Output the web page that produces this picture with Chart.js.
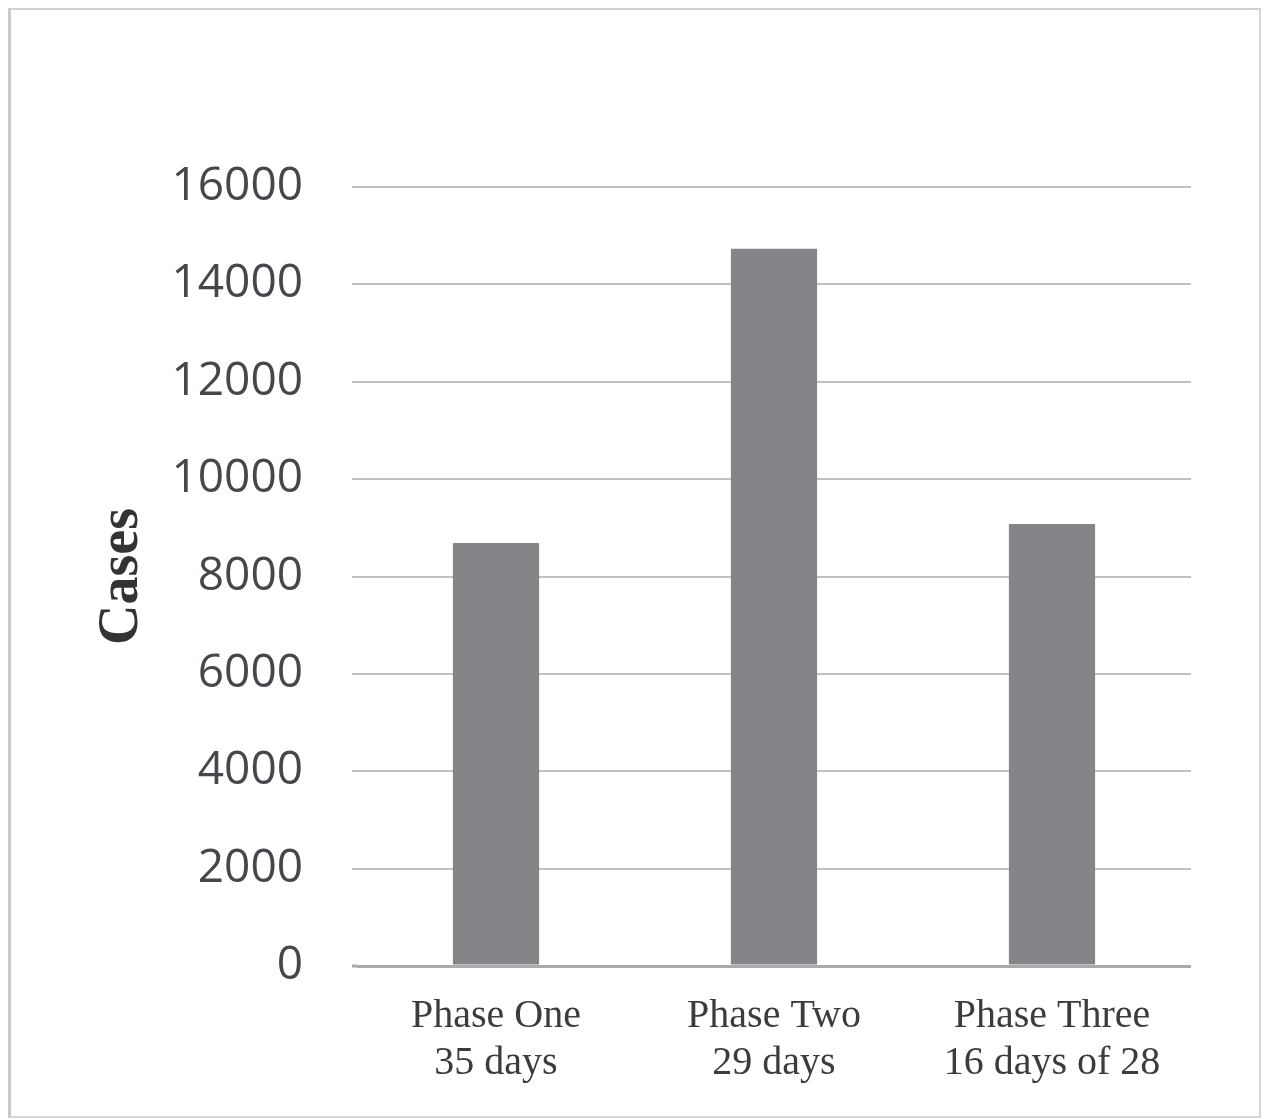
<!DOCTYPE html>
<html>
<head>
<meta charset="utf-8">
<script src="https://cdn.jsdelivr.net/npm/chart.js@4.4.1/dist/chart.umd.min.js"></script>
<style>
  html, body { margin: 0; padding: 0; background: #ffffff; }
  #wrap { position: relative; width: 1266px; height: 1119px; overflow: hidden; }
  #chart { position: absolute; left: 0; top: 0; }
  #frame {
    position: absolute; left: 8px; top: 8px; width: 1248px; height: 1106px;
    border-left: 3px solid #c6c9cd; border-top: 2px solid #cfd2d5;
    border-right: 2px solid #d4d6d8; border-bottom: 2px solid #d4d6d8;
    pointer-events: none;
  }
</style>
</head>
<body>
<div id="wrap">
  <canvas id="chart" width="1266" height="1119"></canvas>
  <div id="frame"></div>
</div>
<script>
// Case counts per phase
const categories = [
  ['Phase One', '35 days'],
  ['Phase Two', '29 days'],
  ['Phase Three', '16 days of 28']
];
const cases = [8690, 14730, 9080];
const yTicks = [0, 2000, 4000, 6000, 8000, 10000, 12000, 14000, 16000];

// Let the horizontal gridlines reach a few pixels left of the plot area
const gridLead = {
  id: 'gridLead',
  beforeDatasetsDraw(chart) {
    const { ctx, chartArea } = chart;
    const y = chart.scales.y;
    ctx.save();
    y.ticks.forEach((t) => {
      const py = Math.round(y.getPixelForValue(t.value));
      const zero = t.value === 0;
      ctx.strokeStyle = zero ? '#a9abad' : '#bfc1c3';
      ctx.lineWidth = zero ? 3 : 2;
      ctx.beginPath();
      ctx.moveTo(chartArea.left - 5, py);
      ctx.lineTo(chartArea.left, py);
      ctx.stroke();
    });
    ctx.restore();
  }
};

const ctx = document.getElementById('chart').getContext('2d');
new Chart(ctx, {
  type: 'bar',
  data: {
    labels: categories,
    datasets: [{
      data: cases,
      backgroundColor: '#838588',
      borderWidth: 0,
      categoryPercentage: 1.0,
      barPercentage: 0.31
    }]
  },
  plugins: [gridLead],
  options: {
    responsive: false,
    animation: false,
    devicePixelRatio: 1,
    layout: { padding: { left: 0, top: 187, right: 75, bottom: 0 } },
    plugins: {
      legend: { display: false },
      tooltip: { enabled: false }
    },
    scales: {
      x: {
        grid: { display: false, drawTicks: false },
        border: { display: false },
        ticks: {
          color: '#3c3c3c',
          padding: 27,
          maxRotation: 0,
          autoSkip: false,
          font: { family: '"Liberation Serif", "Times New Roman", serif', size: 40, lineHeight: 1.18 }
        },
        afterFit: (s) => { s.height = 1119 - 966; }
      },
      y: {
        min: 0,
        max: 16000,
        afterBuildTicks: (s) => { s.ticks = yTicks.map(v => ({ value: v })); },
        grid: {
          drawTicks: false,
          color: (c) => c.tick && c.tick.value === 0 ? '#a9abad' : '#bfc1c3',
          lineWidth: (c) => c.tick && c.tick.value === 0 ? 3 : 2
        },
        border: { display: false },
        ticks: {
          color: '#44484d',
          padding: 54,
          font: { family: '"Open Sans", "Noto Sans", sans-serif', size: 46 },
          callback: (v) => String(v)
        },
        title: {
          display: true,
          text: 'Cases',
          color: '#333333',
          padding: { top: 89, bottom: 0 },
          font: { family: '"Liberation Serif", "Times New Roman", serif', size: 56, weight: 'bold' }
        },
        afterFit: (s) => { s.width = 357; }
      }
    }
  }
});
</script>
</body>
</html>
